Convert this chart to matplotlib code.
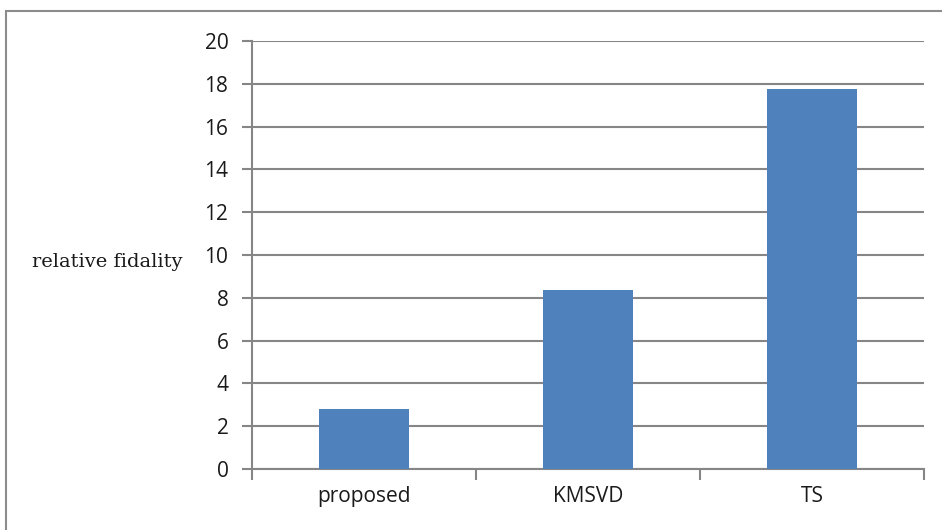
import matplotlib.pyplot as plt
from matplotlib.patches import Rectangle

categories = ["proposed", "KMSVD", "TS"]
values = [2.8, 8.35, 17.75]
y_ticks = [0, 2, 4, 6, 8, 10, 12, 14, 16, 18, 20]

W, H = 942, 530
fig = plt.figure(figsize=(W / 100, H / 100), dpi=100)
fig.patch.set_facecolor("white")

# outer chart frame (right/bottom edges run off the picture)
fig.add_artist(Rectangle((6 / W, -0.05), 1.1, 1 - 11 / H + 0.05,
                         transform=fig.transFigure, fill=False,
                         edgecolor="#8c8c8c", linewidth=1.5))

left, right, top, bottom = 252, 924, 41, 469
ax = fig.add_axes([left / W, 1 - bottom / H, (right - left) / W, (bottom - top) / H])

grey = "#868686"
x = range(len(categories))
ax.bar(x, values, width=0.4, color="#4F81BD", zorder=3)
ax.set_xlim(-0.5, len(categories) - 0.5)
ax.set_ylim(0, 20)
ax.set_yticks(y_ticks)
ax.set_yticklabels([str(t) for t in y_ticks], fontsize=15, family="Open Sans",
                   color="#1a1a1a")
ax.yaxis.grid(True, color=grey, linewidth=1.5, zorder=0)

# category labels at centres, ticks at boundaries
ax.set_xticks(list(x))
ax.set_xticklabels(categories, fontsize=15, family="Open Sans", color="#1a1a1a")
ax.tick_params(axis="x", length=0, pad=12)
ax.set_xticks([i - 0.5 for i in range(len(categories) + 1)], minor=True)
ax.tick_params(axis="x", which="minor", length=8, color=grey, width=1.5)
ax.tick_params(axis="y", length=7, color=grey, width=1.5, pad=10)

for s in ["top", "right"]:
    ax.spines[s].set_visible(False)
for s in ["left", "bottom"]:
    ax.spines[s].set_color(grey)
    ax.spines[s].set_linewidth(1.5)

fig.text(183 / W, 1 - 262 / H, "relative fidality", family="DejaVu Serif",
         fontsize=14, ha="right", va="center", color="#1a1a1a")

fig.savefig("out.png", dpi=100)
